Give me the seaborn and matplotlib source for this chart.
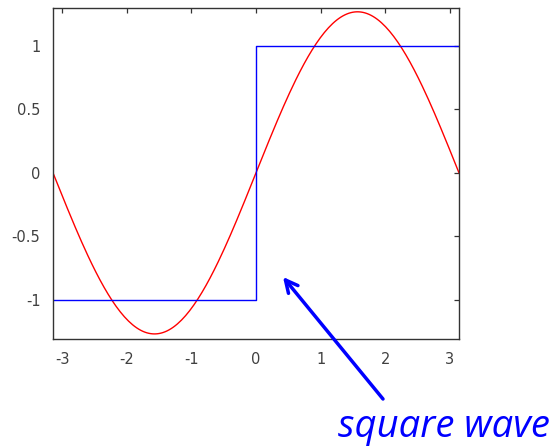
import numpy as np
import pandas as pd
import matplotlib
matplotlib.use("Agg")
import matplotlib.pyplot as plt
import seaborn as sns

# Square wave on [-pi, pi] and its first Fourier component
square_x = [-np.pi, 0.0, 0.0, np.pi]
square_y = [-1.0, -1.0, 1.0, 1.0]
fundamental_amp = 1.27          # 4/pi, peak height of the sine term
x_ticks = [-3, -2, -1, 0, 1, 2, 3]
y_ticks = [-1, -0.5, 0, 0.5, 1]
y_tick_labels = ["-1", "-0.5", "0", "0.5", "1"]

sns.set_style("white")
plt.rcParams["font.family"] = ["DejaVu Sans"]

fig = plt.figure(figsize=(5.56, 4.46), dpi=100)
ax = fig.add_axes([53 / 556, 1 - 339 / 446, (459 - 53) / 556, (339 - 8) / 446])

xs = np.linspace(-np.pi, np.pi, 200)
sine = pd.DataFrame({"x": xs, "y": fundamental_amp * np.sin(xs)})
sns.lineplot(data=sine, x="x", y="y", color="#ff0000", lw=1.0, ax=ax,
             estimator=None, sort=False)
sns.lineplot(x=square_x, y=square_y, color="#0000ff", lw=1.0, ax=ax,
             estimator=None, sort=False)

ax.set_xlim(-np.pi, np.pi)
ax.set_ylim(-1.31, 1.30)
ax.set_xticks(x_ticks)
ax.set_xticklabels([str(t) for t in x_ticks])
ax.set_yticks(y_ticks)
ax.set_yticklabels(y_tick_labels)
ax.set_xlabel("")
ax.set_ylabel("")
ax.tick_params(direction="in", length=3.5, width=0.9, color="#333333",
               top=True, right=True, labelsize=10.5, labelcolor="#404040",
               pad=9)
for sp in ax.spines.values():
    sp.set_visible(True)
    sp.set_color("#333333")
    sp.set_linewidth(1.0)

# Callout: label plus arrow pointing at the square wave
fig.text(444 / 556, 1 - 437 / 446, "square wave", ha="center", va="baseline",
         color="#0000ff", fontsize=27.5, fontstyle="italic",
         family=["Open Sans", "DejaVu Sans"])
ax.annotate("", xy=(283, 446 - 277), xycoords="figure pixels",
            xytext=(383, 446 - 399), textcoords="figure pixels",
            arrowprops=dict(arrowstyle="->", color="#0000ff", lw=2.5,
                            mutation_scale=22, shrinkA=0, shrinkB=0))

fig.savefig("out.png", dpi=100)
